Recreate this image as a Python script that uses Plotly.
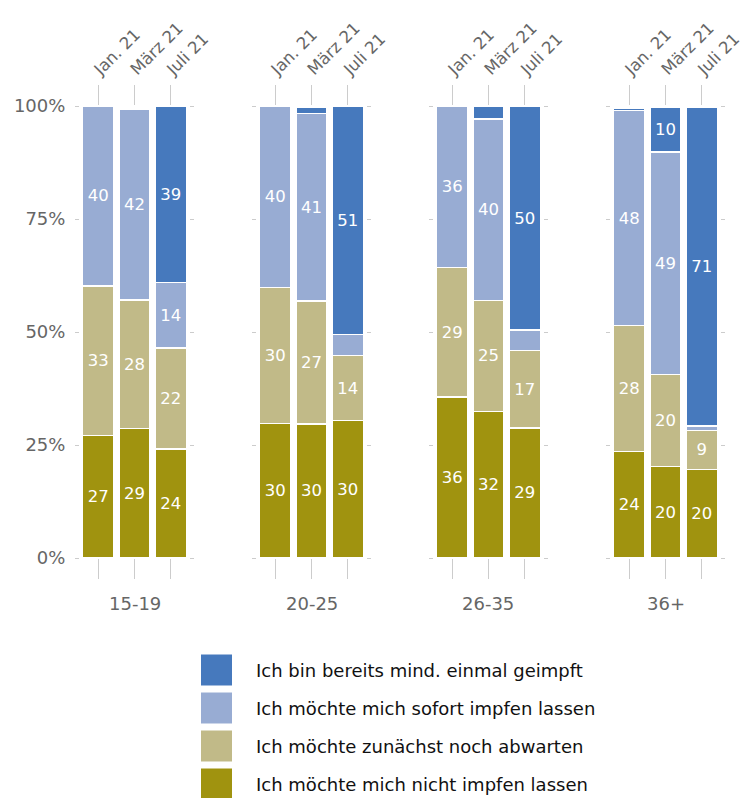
import plotly.graph_objects as go

groups = ["15-19", "20-25", "26-35", "36+"]
waves = ["Jan. 21", "März 21", "Juli 21"]

series_names = [
    "Ich möchte mich nicht impfen lassen",
    "Ich möchte zunächst noch abwarten",
    "Ich möchte mich sofort impfen lassen",
    "Ich bin bereits mind. einmal geimpft",
]
series_colors = ["#A0930F", "#C1BA88", "#98ACD3", "#4679BD"]

# values per group (rows) and wave (columns), stacked bottom to top
nicht = [[27.1, 28.7, 24.1], [29.8, 29.7, 30.4], [35.6, 32.4, 28.8], [23.6, 20.2, 19.6]]
abwarten = [[33.1, 28.4, 22.4], [30.1, 27.2, 14.4], [28.7, 24.6, 17.1], [27.8, 20.4, 8.6]]
sofort = [[39.8, 42.2, 14.4], [40.0, 41.4, 4.6], [35.6, 40.1, 4.5], [47.6, 49.2, 1.0]]
geimpft = [[0.0, 0.0, 39.0], [0.0, 1.5, 50.6], [0.0, 2.8, 49.6], [0.5, 10.0, 70.6]]

series_values = [nicht, abwarten, sofort, geimpft]

y_tickvals = [0, 25, 50, 75, 100]
y_ticktext = ["0%", "25%", "50%", "75%", "100%"]

FONT = "DejaVu Sans, Liberation Sans, Arial, sans-serif"
GRAY = "#666666"
TICKC = "#cccccc"

W, H = 745, 798
ML, MR, MT, MB = 80, 25, 106, 240
PW = W - ML - MR
PH = H - MT - MB
facet_step = 177
facet_w = 109

fig = go.Figure()
for gi, g in enumerate(groups):
    sfx = "" if gi == 0 else str(gi + 1)
    for si, name in enumerate(series_names):
        vals = series_values[si][gi]
        txt = [str(round(v)) if v >= 5 else "" for v in vals]
        fig.add_trace(go.Bar(
            x=waves, y=vals, name=name, text=txt,
            textposition="inside", insidetextanchor="middle", textangle=0,
            textfont=dict(color="white", size=16.5, family=FONT),
            marker=dict(color=series_colors[si], line=dict(color="white", width=1.5)),
            width=0.86, xaxis="x" + sfx, yaxis="y" + sfx, showlegend=False,
            hoverinfo="skip",
        ))
    d0 = facet_step * gi / PW
    d1 = min(1.0, (facet_step * gi + facet_w) / PW)
    fig.update_layout(**{
        "xaxis" + sfx: dict(
            domain=[d0, d1], range=[-0.5, 2.5], side="top", anchor="y" + sfx,
            ticks="outside", ticklen=20, tickcolor=TICKC, tickwidth=1,
            tickangle=-45, mirror="ticks", showline=False, showgrid=False,
            zeroline=False, automargin=False, ticklabelshift=-3,
            tickfont=dict(size=16.5, color=GRAY, family=FONT),
            type="category", categoryorder="array", categoryarray=waves,
        ),
        "yaxis" + sfx: dict(
            domain=[0, 1], range=[0, 100], anchor="x" + sfx,
            ticks="outside", ticklen=4, tickcolor=TICKC, mirror="ticks",
            showline=False, showgrid=False, zeroline=False, automargin=False,
            tickvals=y_tickvals, ticktext=y_ticktext,
            showticklabels=(gi == 0), ticklabelstandoff=6,
            tickfont=dict(size=18, color=GRAY, family=FONT),
        ),
    })
    fig.add_annotation(
        x=(d0 + d1) / 2, y=-45 / PH, xref="paper", yref="paper",
        text=g, showarrow=False, xanchor="center", yanchor="middle",
        font=dict(size=18, color=GRAY, family=FONT),
    )

# custom legend (top to bottom: geimpft, sofort, abwarten, nicht)
legend_rows = [3, 2, 1, 0]
for ri, si in enumerate(legend_rows):
    cy = 670 + 38 * ri
    x0p, x1p = (201 - ML) / PW, (232 - ML) / PW
    y0p, y1p = (MT + PH - (cy + 15.5)) / PH, (MT + PH - (cy - 15.5)) / PH
    fig.add_shape(type="rect", xref="paper", yref="paper",
                  x0=x0p, x1=x1p, y0=y0p, y1=y1p,
                  fillcolor=series_colors[si], line=dict(width=0))
    fig.add_annotation(x=(254 - ML) / PW, y=(MT + PH - cy) / PH,
                       xref="paper", yref="paper", text=series_names[si],
                       showarrow=False, xanchor="left", yanchor="middle",
                       font=dict(size=18, color="#111111", family=FONT))

fig.update_layout(
    width=W, height=H, barmode="stack", bargap=0.14,
    margin=dict(l=ML, r=MR, t=MT, b=MB, autoexpand=False),
    paper_bgcolor="white", plot_bgcolor="white",
    font=dict(family=FONT),
)

fig.write_html("out.html")
